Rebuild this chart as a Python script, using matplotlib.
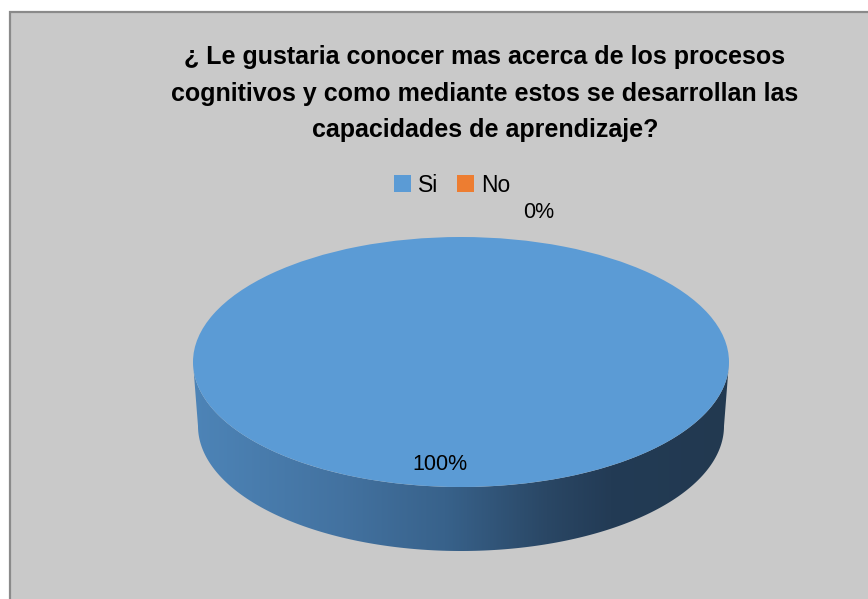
import numpy as np
import matplotlib
matplotlib.use("Agg")
import matplotlib.pyplot as plt
from matplotlib.patches import Wedge, Rectangle, Polygon, Patch
from matplotlib.transforms import Affine2D
from matplotlib.colors import LinearSegmentedColormap

plt.rcParams["font.family"] = ["Liberation Sans", "DejaVu Sans"]

# data
categories = ["Si", "No"]
values = [100, 0]
pct_labels = ["100%", "0%"]
colors = ["#5b9bd5", "#ed7d31"]
title_lines = ["¿ Le gustaria conocer mas acerca de los procesos",
               "cognitivos y como mediante estos se desarrollan las",
               "capacidades de aprendizaje?"]

W, H = 868, 599
fig = plt.figure(figsize=(W / 100, H / 100), dpi=100)
fig.patch.set_facecolor("white")
ax = fig.add_axes([0, 0, 1, 1])
ax.set_xlim(0, W)
ax.set_ylim(H, 0)
ax.axis("off")

# chart area frame
ax.add_patch(Rectangle((10, 12), W, H, facecolor="#c9c9c9",
                       edgecolor="#8a8a8a", linewidth=1.6, zorder=0))

# title
for k, line in enumerate(title_lines):
    ax.text(485, 57 + k * 36.5, line, ha="center", va="center",
            fontsize=18, fontweight="bold", color="black")

# pie geometry (pixels)
cx, cy, a, b = 461, 362, 268, 125
depth, a_bot = 64, 263

# side of the 3D disc (front half), gradient filled
t = np.linspace(0, np.pi, 200)
top_edge = np.column_stack([cx + a * np.cos(t[::-1]), cy + b * np.sin(t[::-1])])
bot_edge = np.column_stack([cx + a_bot * np.cos(t), cy + depth + b * np.sin(t)])
side = Polygon(np.vstack([top_edge, bot_edge]), closed=True,
               facecolor="none", edgecolor="none")
ax.add_patch(side)
side_cmap = LinearSegmentedColormap.from_list(
    "side", [(0.0, "#4d84b7"), (0.28, "#4372a0"), (0.47, "#38628b"),
             (0.66, "#2a4765"), (0.78, "#233b55"), (1.0, "#223950")])
grad = np.linspace(0, 1, 256).reshape(1, -1)
im = ax.imshow(grad, cmap=side_cmap, aspect="auto",
               extent=(cx - a, cx + a, cy + b + depth, cy), zorder=1)
im.set_clip_path(side)

# top face wedges, starting at 12 o'clock, clockwise
total = sum(values)
start = -90.0
tr = Affine2D().scale(a, b).translate(cx, cy) + ax.transData
mids = []
for v, c in zip(values, colors):
    span = 360.0 * v / total
    if span > 0:
        ax.add_patch(Wedge((0, 0), 1, start, start + span, facecolor=c,
                           edgecolor="none", transform=tr, zorder=2))
    mids.append(np.deg2rad(start + span / 2))
    start += span

# data labels
for k, (lab, m) in enumerate(zip(pct_labels, mids)):
    if values[k] > 0:
        x, y = cx - 21 + 0.82 * a * np.cos(m), cy + 0.82 * b * np.sin(m)
    else:
        x, y = cx + 78, cy + b * np.sin(m) - 25
    ax.text(x, y, lab, ha="center", va="center", fontsize=15.5,
            color="black", zorder=3)

# legend
handles = [Patch(facecolor=c, edgecolor="none") for c in colors]
leg = ax.legend(handles, categories, loc="center",
                bbox_to_anchor=(452 / W, 1 - 185 / H), ncol=2, frameon=False,
                fontsize=16.5, handlelength=0.75, handleheight=0.75,
                handletextpad=0.3, columnspacing=0.8, borderpad=0)

fig.savefig("out.png", dpi=100, facecolor="white")
